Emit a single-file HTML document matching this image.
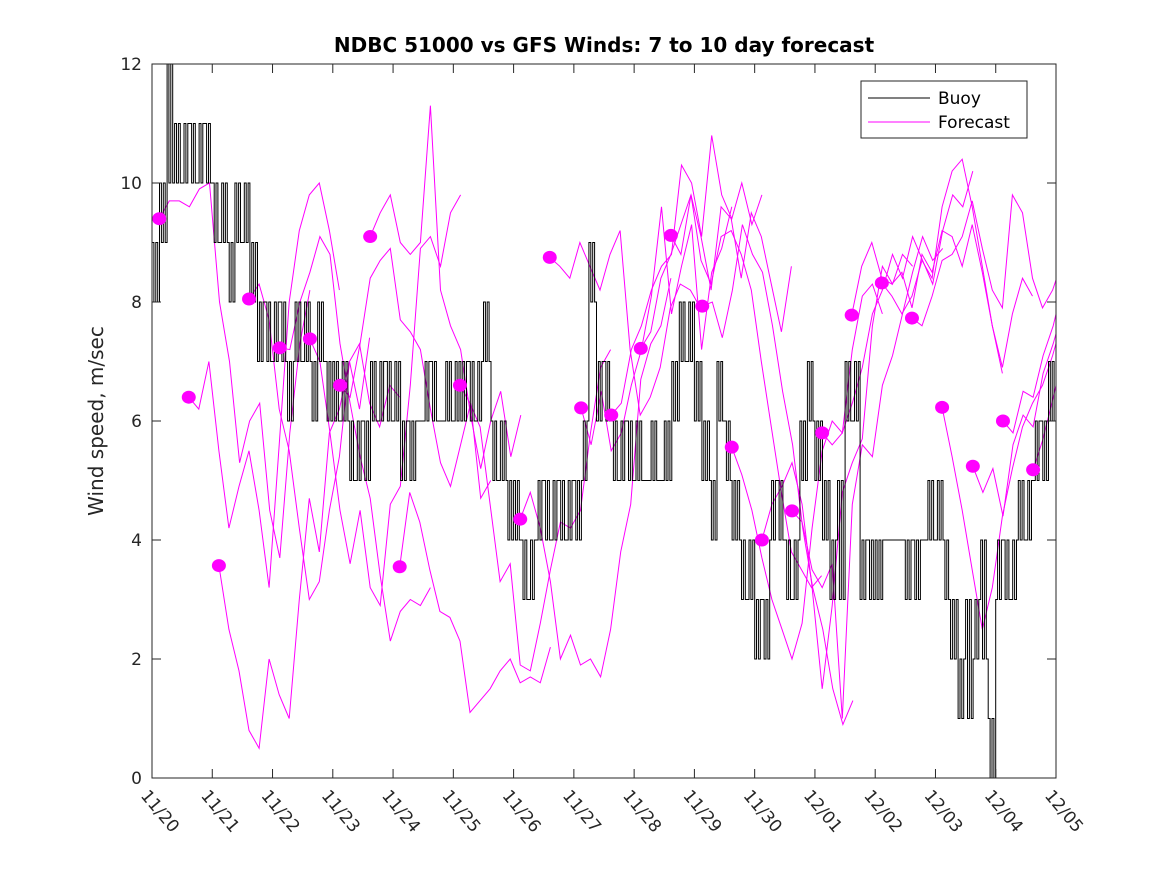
<!DOCTYPE html>
<html><head><meta charset="utf-8"><style>
body{margin:0;background:#fff;}
svg text{font-family:"DejaVu Sans","Liberation Sans",sans-serif;}
</style></head><body>
<svg id="chart" width="1167" height="875" xmlns="http://www.w3.org/2000/svg">
<rect width="1167" height="875" fill="#fff"/>
<text x="604" y="52" text-anchor="middle" font-size="20" font-weight="bold" fill="#000">NDBC 51000 vs GFS Winds: 7 to 10 day forecast</text>
<text transform="translate(103,421) rotate(-90)" text-anchor="middle" font-size="20" fill="#262626">Wind speed, m/sec</text>
<g id="plot"></g>
<rect x="152" y="64" width="904" height="714" fill="none" stroke="#262626" stroke-width="1"/>
<g id="axes"></g>
<g>
<rect x="861" y="81" width="166" height="57" fill="#fff" stroke="#262626"/>
<line x1="868" y1="98" x2="930" y2="98" stroke="#000"/>
<text x="938" y="104" font-size="17" fill="#000">Buoy</text>
<line x1="868" y1="122" x2="930" y2="122" stroke="#f0f"/>
<text x="938" y="128" font-size="17" fill="#000">Forecast</text>
</g>
</svg>
<script>
const xTickLabels=["11/20","11/21","11/22","11/23","11/24","11/25","11/26","11/27","11/28","11/29","11/30","12/01","12/02","12/03","12/04","12/05"];
const yTicks=[0,2,4,6,8,10,12];
const buoyValues=[
9,10,12,11,10,11,10,11,
10,9,9,10,9,8,7,8,
7,8,6,8,7,7,8,7,
7,6,6,5,6,7,6,7,
6,5,6,6,6,7,6,7,
6,6,7,6,8,6,5,5,
5,4,3,4,5,4,5,4,
5,5,9,6,7,6,5,6,
5,5,5,5,6,7,8,7,
6,5,5,7,6,4,4,3,
2,3,4,5,4,3,6,7,
5,4,3,5,7,6,3,4,
4,4,4,4,3,4,4,5,
4,4,2,1,3,2,4,1,
3,4,3,5,4,5,6,7];
const buoyAlt=[
8,9,10,10,11,10,11,10,
9,10,8,9,10,9,8,7,
8,7,7,7,8,6,7,6,
6,7,5,6,5,6,7,6,
7,6,5,6,7,6,6,6,
7,7,6,7,7,5,6,4,
4,3,4,5,4,5,4,5,
4,6,8,7,6,5,6,5,
6,5,6,5,5,6,7,8,
7,6,4,6,5,5,3,4,
3,2,5,4,3,4,5,6,
6,5,4,3,6,7,4,3,
3,4,4,4,4,3,4,4,
5,3,3,2,1,3,2,0,
4,3,4,4,5,6,5,6];
const forecastStarts=[0.12,0.61,1.11,1.61,2.12,2.62,3.12,3.62,4.11,5.11,6.11,6.60,7.12,7.62,8.11,8.61,9.13,9.62,10.12,10.62,11.12,11.61,12.11,12.61,13.11,13.62,14.12,14.62];
const forecastValues=[
[9.4,9.7,9.7,9.6,9.9,10,8,7,5.3,6,6.3,4.5,3.7,5.8,7.3,8.2],
[6.4,6.2,7,5.5,4.2,4.9,5.5,4.5,3.2,5.6,8,9.2,9.8,10,9.2,8.2],
[3.57,2.5,1.8,0.8,0.5,2,1.4,1,3,4.7,3.8,5.8,6.2,7,6.2,7.4],
[8.05,8.3,7.7,6.2,5.5,4.2,3,3.3,4.5,5.4,7,7.3,6.3,5.9,6.6,6.4],
[7.23,7.2,8,8.5,9.1,8.8,7.3,6.3,5.4,4.7,3.4,2.3,2.8,3,2.9,3.2],
[7.38,7,5.8,4.5,3.6,4.5,3.2,2.9,4.6,4.9,6.6,8.9,9.1,8.6,9.5,9.8],
[6.6,6.4,7.3,8.4,8.7,8.9,7.7,7.5,7.2,6.2,5.3,4.9,5.6,6.3,4.7,5.0],
[9.1,9.5,9.8,9,8.8,9,11.3,8.2,7.6,7.2,6.1,5.2,6,6.5,5.4,6.1],
[3.55,4.8,4.3,3.5,2.8,2.7,2.3,1.1,1.3,1.5,1.8,2.0,1.6,1.7,1.6,2.2],
[6.6,6.3,5.9,4.6,3.3,3.6,1.9,1.8,2.6,3.5,4.3,4.2,4.5,5.8,6.9,7.2],
[4.35,4.8,4.2,3.3,2,2.4,1.9,2,1.7,2.5,3.8,4.6,6.7,7.3,7.6,8.4],
[8.75,8.6,8.4,9,8.6,8.2,8.8,9.2,7.2,6.1,6.4,6.9,7.9,8.3,8.2,7.9],
[6.22,5.6,6.5,5.5,5.8,6.6,7.2,8.1,9.6,7.8,8.6,9.3,7.2,8.5,8.9,9.6],
[6.1,6.3,7.2,7.6,8.2,8.6,8.8,10.3,10,9.1,10.8,9.8,9.4,10,9.3,9.8],
[7.22,7.5,8.4,8.8,9.3,9.8,9.1,8.2,9.6,9.4,8.4,9.5,9.1,8.3,7.5,8.6],
[9.12,8.8,9.8,8.7,8.3,9.1,9.2,8.8,8.2,7,5.9,4.8,3.8,3.5,3.2,3.4],
[7.93,8,7.4,8.2,9.3,8.8,8.5,7.6,6.5,5.6,4.2,3.2,2.5,1.5,0.9,1.3],
[5.56,5.1,4.5,3.7,3,2.5,2,2.6,4.2,5.5,6,5.8,7.2,8.1,8.3,7.8],
[4.0,4.6,4.9,5.3,4.6,3.2,1.5,2.9,4.8,5.3,5.7,7.6,8.6,8.3,8.8,8.6],
[4.49,4.3,3.5,3.2,3.6,1,4.6,5.6,5.4,6.6,7.1,7.8,8.5,9.1,8.7,8.9],
[5.8,5.6,5.8,6.3,6.9,7.8,8.2,8.8,8.4,9.1,8.7,8.3,9.2,9.8,9.6,10.2],
[7.78,8.6,9,8.4,8.3,8.5,7.9,8.8,8.5,9.2,9.1,8.6,9.3,8.5,7.6,6.8],
[8.32,8.1,7.8,8.1,8.7,8.4,9.6,10.2,10.4,9.6,8.6,7.6,6.9,7.8,8.4,8.1],
[7.73,7.6,8.1,8.7,8.8,9.1,9.7,8.9,8.2,7.9,9.8,9.5,8.4,7.9,8.2,8.7],
[6.23,5.4,4.5,3.5,2.5,3.2,4.4,5.2,5.9,6.3,6.6,7.1,7.7,8.3,8.9,8.6],
[5.24,4.8,5.2,4.4,5.6,6.1,5.9,6.8,7.3,7.9,8.5,9.2,8.8,8.2,8.6,9.1],
[6.0,5.8,6.5,6.4,7.1,7.6,8.3,9.0,8.7,8.4,8.1,8.6,8.0,7.7,7.9,8.2],
[5.18,5.7,6.4,7.1,7.6,8.3,8.9,8.5,8.0,7.7,8.2,8.6,8.4,8.0,8.3,8.5]];
const X0=152,X1=1056,Y0=778,Y1=64,NS="http://www.w3.org/2000/svg";
function xs(d){return X0+d*(X1-X0)/15;}
function ys(v){return Y0-v*(Y0-Y1)/12;}
const plot=document.getElementById('plot'),axes=document.getElementById('axes');
const cp=document.createElementNS(NS,'clipPath');cp.id='clip';
const cr=document.createElementNS(NS,'rect');cr.setAttribute('x',X0);cr.setAttribute('y',Y1);cr.setAttribute('width',X1-X0);cr.setAttribute('height',Y0-Y1);
cp.appendChild(cr);document.getElementById('chart').appendChild(cp);
plot.setAttribute('clip-path','url(#clip)');
let d='';const step=1/8;
for(let i=0;i<buoyValues.length;i++){
  const t=i*step;
  const pts=[[t,buoyValues[i]],[t+step/4,buoyAlt[i]],[t+step/2,buoyValues[i]],[t+3*step/4,buoyAlt[i]]];
  pts.forEach(p=>{const x=xs(p[0]).toFixed(1),y=ys(p[1]).toFixed(1);
    if(d===''){d='M'+x+','+y;}else{d+='H'+x+'V'+y;}});
}
d+='H'+xs(15);
const bp=document.createElementNS(NS,'path');


bp.setAttribute('d',d);bp.setAttribute('fill','none');bp.setAttribute('stroke','#000');bp.setAttribute('stroke-width','1');
forecastValues.forEach((vals,j)=>{
  const s=forecastStarts[j];
  const pl=document.createElementNS(NS,'polyline');
  
  
  pl.setAttribute('points',vals.map((v,k)=>xs(s+k/6).toFixed(1)+','+ys(v).toFixed(1)).join(' '));
  pl.setAttribute('fill','none');pl.setAttribute('stroke','#f0f');pl.setAttribute('stroke-width','1');
  plot.appendChild(pl);
});
plot.appendChild(bp);
forecastValues.forEach((vals,j)=>{
  const c=document.createElementNS(NS,'ellipse');
  
  
  c.setAttribute('cx',xs(forecastStarts[j]));c.setAttribute('cy',ys(vals[0]));
  c.setAttribute('rx',7);c.setAttribute('ry',6.5);c.setAttribute('fill','#f0f');
  plot.appendChild(c);
});
xTickLabels.forEach((lab,i)=>{
  const x=xs(i);
  [[Y0,Y0-9],[Y1,Y1+9]].forEach(a=>{const l=document.createElementNS(NS,'line');
    
    
    l.setAttribute('x1',x);l.setAttribute('x2',x);l.setAttribute('y1',a[0]);l.setAttribute('y2',a[1]);l.setAttribute('stroke','#262626');axes.appendChild(l);});
  const t=document.createElementNS(NS,'text');
  
  
  t.setAttribute('transform','translate('+(x-12)+',796) rotate(50)');
  t.setAttribute('font-size','17');t.setAttribute('fill','#262626');t.textContent=lab;axes.appendChild(t);
});
yTicks.forEach(v=>{
  const y=ys(v);
  [[X0,X0+9],[X1,X1-9]].forEach(a=>{const l=document.createElementNS(NS,'line');
    
    
    l.setAttribute('x1',a[0]);l.setAttribute('x2',a[1]);l.setAttribute('y1',y);l.setAttribute('y2',y);l.setAttribute('stroke','#262626');axes.appendChild(l);});
  const t=document.createElementNS(NS,'text');
  
  
  t.setAttribute('x',X0-10);t.setAttribute('y',y+6);t.setAttribute('text-anchor','end');
  t.setAttribute('font-size','17');t.setAttribute('fill','#262626');t.textContent=v;axes.appendChild(t);
});
</script>
</body></html>
